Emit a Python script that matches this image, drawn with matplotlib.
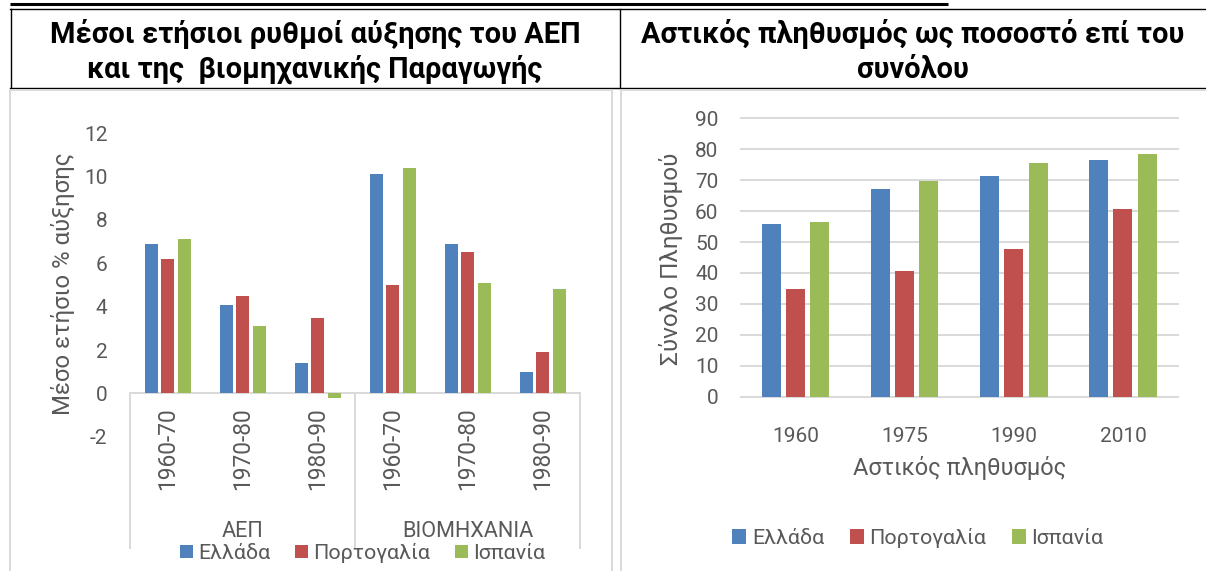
import matplotlib
matplotlib.use('Agg')
import matplotlib.pyplot as plt
import numpy as np

FONT = ['Roboto', 'DejaVu Sans']
plt.rcParams['font.family'] = FONT
plt.rcParams['axes.unicode_minus'] = False

# ---------------- data ----------------
countries = ['Ελλάδα', 'Πορτογαλία', 'Ισπανία']
colors = ['#4f81bd', '#c0504d', '#9bbb59']

growth_groups = ['ΑΕΠ', 'ΒΙΟΜΗΧΑΝΙΑ']
growth_periods = ['1960-70', '1970-80', '1980-90', '1960-70', '1970-80', '1980-90']
growth_greece = [6.9, 4.1, 1.4, 10.1, 6.9, 1.0]
growth_portugal = [6.2, 4.5, 3.5, 5.0, 6.5, 1.9]
growth_spain = [7.1, 3.1, -0.2, 10.4, 5.1, 4.8]
growth_yticks = [-2, 0, 2, 4, 6, 8, 10, 12]

urban_years = ['1960', '1975', '1990', '2010']
urban_greece = [55.8, 67.0, 71.4, 76.4]
urban_portugal = [34.8, 40.6, 47.7, 60.6]
urban_spain = [56.6, 69.7, 75.4, 78.6]
urban_yticks = [0, 10, 20, 30, 40, 50, 60, 70, 80, 90]

title_left = ['Μέσοι ετήσιοι ρυθμοί αύξησης του ΑΕΠ', 'και της  βιομηχανικής Παραγωγής']
title_right = ['Αστικός πληθυσμός ως ποσοστό επί του', 'συνόλου']
ylabel_left = 'Μέσο ετήσιο % αύξησης'
ylabel_right = 'Σύνολο Πληθυσμού'
xlabel_right = 'Αστικός πληθυσμός'

# ---------------- figure ----------------
W, H, DPI = 1206, 571, 100
fig = plt.figure(figsize=(W / DPI, H / DPI), dpi=DPI)
fig.patch.set_facecolor('white')
renderer = fig.canvas.get_renderer()
TXT = '#595959'
GRID = '#d9d9d9'


def fit(text, target_px, weight='normal'):
    t = fig.text(0, 0, text, fontsize=10, weight=weight)
    w = t.get_window_extent(renderer).width
    t.remove()
    return 10 * target_px / w


def px_axes(left, top, right, bottom):
    return fig.add_axes([left / W, 1 - bottom / H, (right - left) / W, (bottom - top) / H])


# background axes in pixel coordinates for table borders and titles
bg = fig.add_axes([0, 0, 1, 1], zorder=-5)
bg.set_xlim(0, W)
bg.set_ylim(H, 0)
bg.axis('off')

# table borders
bg.plot([10, 948], [3.5, 3.5], color='black', lw=2.2, solid_capstyle='butt')
bg.plot([10, W], [8.5, 8.5], color='black', lw=1.0)
bg.plot([10, W], [87.5, 87.5], color='black', lw=1.0)
bg.plot([10.5, 10.5], [8.5, 87.5], color='black', lw=1.0)
bg.plot([620, 620], [8.5, 87.5], color='black', lw=1.0)
# chart frames
bg.plot([9.5, 9.5], [89.5, H], color=GRID, lw=1.4)
bg.plot([9.5, 612], [89.5, 89.5], color=GRID, lw=1.4)
bg.plot([612, 612], [89.5, H], color=GRID, lw=1.4)
bg.plot([621, 621], [89.5, H], color=GRID, lw=1.4)
bg.plot([621, W], [89.5, 89.5], color=GRID, lw=1.4)

# titles
fs_title = fit(title_left[0], 530, 'bold')
bg.text(315, 43, title_left[0], ha='center', va='baseline', fontsize=fs_title, weight='bold', color='black')
bg.text(315, 78, title_left[1], ha='center', va='baseline', fontsize=fs_title, weight='bold', color='black')
bg.text(913, 43, title_right[0], ha='center', va='baseline', fontsize=fs_title, weight='bold', color='black')
bg.text(913, 78, title_right[1], ha='center', va='baseline', fontsize=fs_title, weight='bold', color='black')

fs_tick = fit('1960', 46.5)
fs_cat = fit('1970-80', 82)
fs_grp = fit('ΒΙΟΜΗΧΑΝΙΑ', 131)
fs_leg = fit('Πορτογαλία', 117)
fs_leg_px = fs_leg * DPI / 72

# ---------------- chart 1: growth ----------------
ax1 = px_axes(130.4, 133.3, 580.2, 436.7)
ax1.set_xlim(-0.5, 5.5)
ax1.set_ylim(-2, 12)
for s in ax1.spines.values():
    s.set_visible(False)
x1 = np.arange(len(growth_periods))
bw1, off1 = 0.176, 0.22
bars1 = []
for k, vals in enumerate([growth_greece, growth_portugal, growth_spain]):
    bars1.append(ax1.bar(x1 + (k - 1) * off1, vals, bw1, color=colors[k], label=countries[k], zorder=3))
ax1.set_yticks(growth_yticks)
ax1.set_yticklabels([str(v) for v in growth_yticks])
ax1.tick_params(axis='y', length=0, pad=16.5, labelsize=fs_tick, labelcolor=TXT)
ax1.set_xticks([])
ax1.axhline(0, color=GRID, lw=1.4, zorder=2)

ppu1 = (436.7 - 133.3) / 14.0
ybot = -(547 - 392.7) / ppu1
for xv in [-0.5, 2.5, 5.5]:
    ax1.plot([xv, xv], [0, ybot], color=GRID, lw=1.4, clip_on=False, zorder=2)
ylab_top = -(407 - 392.7) / ppu1
for i, lab in enumerate(growth_periods):
    ax1.text(x1[i], ylab_top, lab, rotation=90, ha='center', va='top', fontsize=fs_cat,
             color=TXT, clip_on=False)
ygrp = -(531 - 392.7) / ppu1
for g, lab in enumerate(growth_groups):
    ax1.text(1 + 3 * g, ygrp, lab, ha='center', va='center', fontsize=fs_grp, color=TXT, clip_on=False)

fs_yl1 = fit(ylabel_left, 263)
fig.text(63 / W, 1 - 283.5 / H, ylabel_left, rotation=90, ha='center', va='center', fontsize=fs_yl1, color=TXT)

leg1 = ax1.legend(handles=bars1, labels=countries, ncol=3, loc='center', frameon=False,
                  bbox_to_anchor=(362.5 / W, 1 - 553 / H), bbox_transform=fig.transFigure,
                  fontsize=fs_leg, handlelength=13 / fs_leg_px, handleheight=13 / fs_leg_px,
                  handletextpad=5 / fs_leg_px, columnspacing=25 / fs_leg_px,
                  borderpad=0, borderaxespad=0)
for t in leg1.get_texts():
    t.set_color(TXT)

# ---------------- chart 2: urban population ----------------
ax2 = px_axes(741, 118.3, 1177.5, 396.7)
ax2.set_xlim(-0.5, 3.5)
ax2.set_ylim(0, 90)
for s in ax2.spines.values():
    s.set_visible(False)
x2 = np.arange(len(urban_years))
bw2, off2 = 0.174, 0.2225
bars2 = []
for k, vals in enumerate([urban_greece, urban_portugal, urban_spain]):
    bars2.append(ax2.bar(x2 + (k - 1) * off2, vals, bw2, color=colors[k], label=countries[k], zorder=3))
ax2.set_yticks(urban_yticks)
ax2.set_yticklabels([str(v) for v in urban_yticks])
ax2.yaxis.grid(True, color=GRID, lw=1.4, zorder=0)
for gl in ax2.get_ygridlines():
    gl.set_clip_on(False)
ax2.set_axisbelow(True)
ax2.tick_params(axis='y', length=0, pad=16.3, labelsize=fs_tick, labelcolor=TXT)
ax2.set_xticks(x2)
ax2.set_xticklabels(urban_years)
ax2.tick_params(axis='x', length=0, pad=22, labelsize=fs_tick, labelcolor=TXT)

fs_xl2 = fit(xlabel_right, 213)
fig.text(960 / W, 1 - 468 / H, xlabel_right, ha='center', va='center', fontsize=fs_xl2, color=TXT)
fs_yl2 = fit(ylabel_right, 212)
fig.text(671 / W, 1 - 259 / H, ylabel_right, rotation=90, ha='center', va='center', fontsize=fs_yl2, color=TXT)

leg2 = ax2.legend(handles=bars2, labels=countries, ncol=3, loc='center', frameon=False,
                  bbox_to_anchor=(918 / W, 1 - 538 / H), bbox_transform=fig.transFigure,
                  fontsize=fs_leg, handlelength=14 / fs_leg_px, handleheight=14 / fs_leg_px,
                  handletextpad=6 / fs_leg_px, columnspacing=25 / fs_leg_px,
                  borderpad=0, borderaxespad=0)
for t in leg2.get_texts():
    t.set_color(TXT)

fig.savefig('out.png', dpi=DPI, facecolor='white')
